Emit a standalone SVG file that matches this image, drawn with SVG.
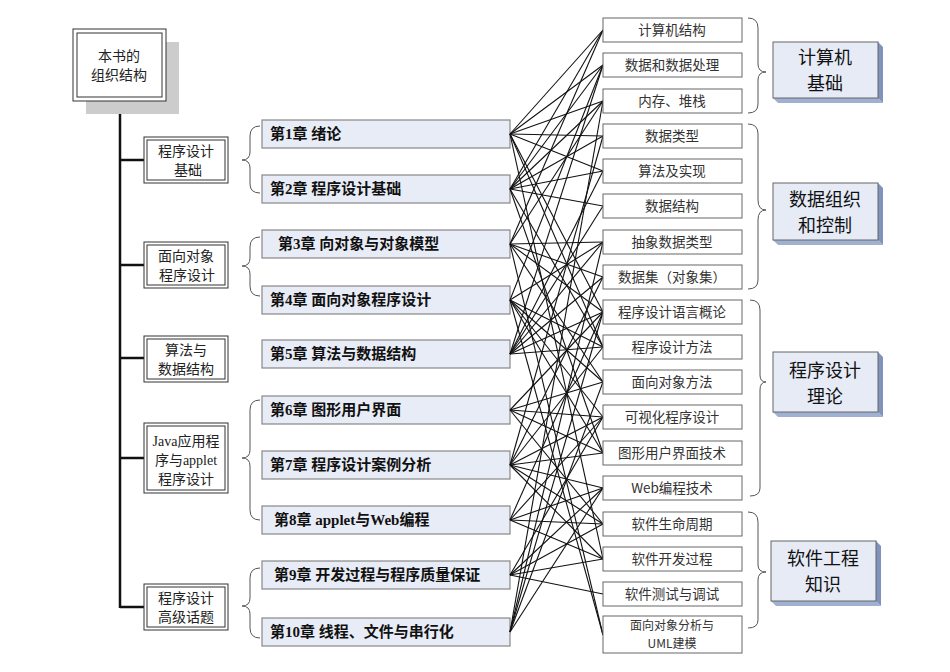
<svg xmlns="http://www.w3.org/2000/svg" width="950" height="672" viewBox="0 0 950 672">
<style>
.t{font-family:"Liberation Serif","Noto Sans CJK SC",serif;font-size:14px;fill:#222}
.ch{font-family:"Liberation Serif","Noto Sans CJK SC",serif;font-size:15px;font-weight:bold;fill:#111}
.tp{font-family:"Noto Sans CJK SC",sans-serif;font-size:13.5px;fill:#333;text-anchor:middle}
.tp2{font-family:"Noto Sans CJK SC",sans-serif;font-size:12px;fill:#333;text-anchor:middle}
.g{font-family:"Noto Sans CJK SC",sans-serif;font-size:18px;fill:#111;text-anchor:middle}
.cb{fill:#e8ecf6;stroke:#888;stroke-width:1.2}
.tb{fill:#fff;stroke:#666;stroke-width:1}
.br{fill:none;stroke:#555;stroke-width:1}
.dbl{fill:#fff;stroke:#333;stroke-width:1}
#conn line{stroke:#111;stroke-width:1.1}
</style>
<rect width="950" height="672" fill="#fff"/>
<g id="tree" stroke="#111" stroke-width="2.5" fill="none">
<line x1="120" y1="95" x2="120" y2="608"/>
<line x1="120" y1="160" x2="144" y2="160"/>
<line x1="120" y1="265" x2="144" y2="265"/>
<line x1="120" y1="358" x2="144" y2="358"/>
<line x1="120" y1="458" x2="144" y2="458"/>
<line x1="120" y1="607" x2="144" y2="607"/>
</g>
<g id="root">
<rect x="86" y="42" width="93" height="72" fill="#ccc"/>
<rect x="73" y="29" width="93" height="72" class="dbl" stroke-width="3"/>
<rect x="77" y="33" width="85" height="64" class="dbl"/>
<text class="t" x="119" y="61" text-anchor="middle">本书的</text>
<text class="t" x="119" y="80" text-anchor="middle">组织结构</text>
</g>
<g id="cat1"><rect x="144" y="137" width="84" height="46" class="dbl" stroke-width="3"/><rect x="147" y="140" width="78" height="40" class="dbl"/><text class="t" x="186" y="156" text-anchor="middle">程序设计</text><text class="t" x="188" y="175" text-anchor="middle">基础</text></g>
<g id="cat2"><rect x="144" y="242" width="84" height="46" class="dbl" stroke-width="3"/><rect x="147" y="245" width="78" height="40" class="dbl"/><text class="t" x="186" y="261" text-anchor="middle">面向对象</text><text class="t" x="187" y="280" text-anchor="middle">程序设计</text></g>
<g id="cat3"><rect x="144" y="336" width="84" height="46" class="dbl" stroke-width="3"/><rect x="147" y="339" width="78" height="40" class="dbl"/><text class="t" x="186" y="355" text-anchor="middle">算法与</text><text class="t" x="186" y="374" text-anchor="middle">数据结构</text></g>
<g id="cat4"><rect x="144" y="423" width="84" height="70" class="dbl" stroke-width="3"/><rect x="147" y="426" width="78" height="64" class="dbl"/><text class="t" x="186" y="446" text-anchor="middle">Java应用程</text><text class="t" x="186" y="465" text-anchor="middle">序与applet</text><text class="t" x="186" y="484" text-anchor="middle">程序设计</text></g>
<g id="cat5"><rect x="144" y="584" width="84" height="46" class="dbl" stroke-width="3"/><rect x="147" y="587" width="78" height="40" class="dbl"/><text class="t" x="186" y="603" text-anchor="middle">程序设计</text><text class="t" x="186" y="622" text-anchor="middle">高级话题</text></g>
<g id="braces-left">
<path class="br" d="M260,126 Q250,126 250,136 L250,152 Q250,160 242,160 Q250,160 250,168 L250,184 Q250,193 260,193"/>
<path class="br" d="M260,237 Q250,237 250,247 L250,258 Q250,266 242,266 Q250,266 250,274 L250,286 Q250,296 260,296"/>
<path class="br" d="M260,400 Q250,400 250,410 L250,450 Q250,458 242,458 Q250,458 250,466 L250,510 Q250,520 260,520"/>
<path class="br" d="M260,568 Q250,568 250,578 L250,598 Q250,606 242,606 Q250,606 250,614 L250,628 Q250,638 260,638"/>
</g>
<g id="chapters">
<g id="ch1"><rect x="262" y="120" width="248" height="28" class="cb"/><text class="ch" x="270" y="139">第1章 绪论</text></g>
<g id="ch2"><rect x="262" y="175" width="248" height="28" class="cb"/><text class="ch" x="270" y="194">第2章 程序设计基础</text></g>
<g id="ch3"><rect x="262" y="230" width="248" height="28" class="cb"/><text class="ch" x="278" y="249">第3章 向对象与对象模型</text></g>
<g id="ch4"><rect x="262" y="286" width="248" height="28" class="cb"/><text class="ch" x="270" y="305">第4章 面向对象程序设计</text></g>
<g id="ch5"><rect x="262" y="340" width="248" height="28" class="cb"/><text class="ch" x="270" y="359">第5章 算法与数据结构</text></g>
<g id="ch6"><rect x="262" y="396" width="248" height="28" class="cb"/><text class="ch" x="270" y="415">第6章 图形用户界面</text></g>
<g id="ch7"><rect x="262" y="451" width="248" height="28" class="cb"/><text class="ch" x="270" y="470">第7章  程序设计案例分析</text></g>
<g id="ch8"><rect x="262" y="506" width="248" height="28" class="cb"/><text class="ch" x="274" y="525">第8章 applet与Web编程</text></g>
<g id="ch9"><rect x="262" y="561" width="248" height="28" class="cb"/><text class="ch" x="274" y="580">第9章  开发过程与程序质量保证</text></g>
<g id="ch10"><rect x="262" y="618" width="248" height="28" class="cb"/><text class="ch" x="270" y="637">第10章  线程、文件与串行化</text></g>
</g>
<g id="conn">
<line x1="510" y1="134" x2="603" y2="30"/><line x1="510" y1="134" x2="603" y2="65"/><line x1="510" y1="134" x2="603" y2="101"/><line x1="510" y1="134" x2="603" y2="136"/><line x1="510" y1="134" x2="603" y2="171"/><line x1="510" y1="134" x2="603" y2="312"/><line x1="510" y1="134" x2="603" y2="347"/><line x1="510" y1="134" x2="603" y2="559"/>
<line x1="510" y1="189" x2="603" y2="30"/><line x1="510" y1="189" x2="603" y2="65"/><line x1="510" y1="189" x2="603" y2="101"/><line x1="510" y1="189" x2="603" y2="136"/><line x1="510" y1="189" x2="603" y2="171"/><line x1="510" y1="189" x2="603" y2="206"/><line x1="510" y1="189" x2="603" y2="347"/><line x1="510" y1="189" x2="603" y2="453"/>
<line x1="510" y1="244" x2="603" y2="30"/><line x1="510" y1="244" x2="603" y2="101"/><line x1="510" y1="244" x2="603" y2="242"/><line x1="510" y1="244" x2="603" y2="277"/><line x1="510" y1="244" x2="603" y2="312"/><line x1="510" y1="244" x2="603" y2="382"/><line x1="510" y1="244" x2="603" y2="635"/>
<line x1="510" y1="300" x2="603" y2="65"/><line x1="510" y1="300" x2="603" y2="242"/><line x1="510" y1="300" x2="603" y2="347"/><line x1="510" y1="300" x2="603" y2="382"/><line x1="510" y1="300" x2="603" y2="417"/><line x1="510" y1="300" x2="603" y2="453"/><line x1="510" y1="300" x2="603" y2="635"/>
<line x1="510" y1="354" x2="603" y2="65"/><line x1="510" y1="354" x2="603" y2="171"/><line x1="510" y1="354" x2="603" y2="206"/><line x1="510" y1="354" x2="603" y2="242"/><line x1="510" y1="354" x2="603" y2="277"/><line x1="510" y1="354" x2="603" y2="312"/><line x1="510" y1="354" x2="603" y2="347"/>
<line x1="510" y1="410" x2="603" y2="312"/><line x1="510" y1="410" x2="603" y2="382"/><line x1="510" y1="410" x2="603" y2="417"/><line x1="510" y1="410" x2="603" y2="453"/><line x1="510" y1="410" x2="603" y2="524"/>
<line x1="510" y1="465" x2="603" y2="136"/><line x1="510" y1="465" x2="603" y2="277"/><line x1="510" y1="465" x2="603" y2="347"/><line x1="510" y1="465" x2="603" y2="417"/><line x1="510" y1="465" x2="603" y2="453"/><line x1="510" y1="465" x2="603" y2="488"/><line x1="510" y1="465" x2="603" y2="524"/><line x1="510" y1="465" x2="603" y2="559"/>
<line x1="510" y1="520" x2="603" y2="312"/><line x1="510" y1="520" x2="603" y2="417"/><line x1="510" y1="520" x2="603" y2="488"/><line x1="510" y1="520" x2="603" y2="524"/><line x1="510" y1="520" x2="603" y2="559"/>
<line x1="510" y1="575" x2="603" y2="417"/><line x1="510" y1="575" x2="603" y2="488"/><line x1="510" y1="575" x2="603" y2="524"/><line x1="510" y1="575" x2="603" y2="559"/><line x1="510" y1="575" x2="603" y2="594"/>
<line x1="510" y1="632" x2="603" y2="101"/><line x1="510" y1="632" x2="603" y2="242"/><line x1="510" y1="632" x2="603" y2="312"/><line x1="510" y1="632" x2="603" y2="382"/><line x1="510" y1="632" x2="603" y2="488"/>
</g>
<g id="topics">
<g><rect x="603" y="18" width="139" height="24" class="tb"/><text class="tp" x="672" y="35">计算机结构</text></g>
<g><rect x="603" y="53" width="139" height="24" class="tb"/><text class="tp" x="672" y="70">数据和数据处理</text></g>
<g><rect x="603" y="89" width="139" height="24" class="tb"/><text class="tp" x="672" y="106">内存、堆栈</text></g>
<g><rect x="603" y="124" width="139" height="24" class="tb"/><text class="tp" x="672" y="141">数据类型</text></g>
<g><rect x="603" y="159" width="139" height="24" class="tb"/><text class="tp" x="672" y="176">算法及实现</text></g>
<g><rect x="603" y="194" width="139" height="24" class="tb"/><text class="tp" x="672" y="211">数据结构</text></g>
<g><rect x="603" y="230" width="139" height="24" class="tb"/><text class="tp" x="672" y="247">抽象数据类型</text></g>
<g><rect x="603" y="265" width="139" height="24" class="tb"/><text class="tp" x="672" y="282">数据集（对象集）</text></g>
<g><rect x="603" y="300" width="139" height="24" class="tb"/><text class="tp" x="672" y="317">程序设计语言概论</text></g>
<g><rect x="603" y="335" width="139" height="24" class="tb"/><text class="tp" x="672" y="352">程序设计方法</text></g>
<g><rect x="603" y="370" width="139" height="24" class="tb"/><text class="tp" x="672" y="387">面向对象方法</text></g>
<g><rect x="603" y="405" width="139" height="24" class="tb"/><text class="tp" x="672" y="422">可视化程序设计</text></g>
<g><rect x="603" y="441" width="139" height="24" class="tb"/><text class="tp" x="672" y="458">图形用户界面技术</text></g>
<g><rect x="603" y="476" width="139" height="24" class="tb"/><text class="tp" x="672" y="493">Web编程技术</text></g>
<g><rect x="603" y="512" width="139" height="24" class="tb"/><text class="tp" x="672" y="529">软件生命周期</text></g>
<g><rect x="603" y="547" width="139" height="24" class="tb"/><text class="tp" x="672" y="564">软件开发过程</text></g>
<g><rect x="603" y="582" width="139" height="24" class="tb"/><text class="tp" x="672" y="599">软件测试与调试</text></g>
<g><rect x="603" y="616" width="139" height="37" class="tb"/><text class="tp2" x="672" y="630">面向对象分析与</text><text class="tp2" x="672" y="648">UML建模</text></g>
</g>
<g id="braces-right">
<path class="br" d="M748,18 Q758,18 758,28 L758,64 Q758,72 766,72 Q758,72 758,80 L758,104 Q758,113 748,113"/>
<path class="br" d="M748,124 Q758,124 758,134 L758,200 Q758,210 766,210 Q758,210 758,220 L758,280 Q758,289 748,289"/>
<path class="br" d="M750,300 Q760,300 760,310 L760,375 Q760,382 766,382 Q760,382 760,390 L760,488 Q760,496 750,496"/>
<path class="br" d="M748,512 Q758,512 758,522 L758,565 Q758,572 766,572 Q758,572 758,580 L758,620 Q758,628 748,628"/>
</g>
<g id="groups">
<g><polygon points="773,98 878,98 883,103 778,103" fill="#9fb0d0"/><polygon points="878,42 883,47 883,103 878,98" fill="#7f93bb"/><rect x="773" y="42" width="105" height="56" fill="#e6ebf6" stroke="#666"/><text class="g" x="825" y="64">计算机</text><text class="g" x="825" y="90">基础</text></g>
<g><polygon points="773,240 878,240 883,245 778,245" fill="#9fb0d0"/><polygon points="878,183 883,188 883,245 878,240" fill="#7f93bb"/><rect x="773" y="183" width="105" height="57" fill="#e6ebf6" stroke="#666"/><text class="g" x="825" y="206">数据组织</text><text class="g" x="825" y="232">和控制</text></g>
<g><polygon points="773,412 878,412 883,417 778,417" fill="#9fb0d0"/><polygon points="878,352 883,357 883,417 878,412" fill="#7f93bb"/><rect x="773" y="352" width="105" height="60" fill="#e6ebf6" stroke="#666"/><text class="g" x="825" y="377">程序设计</text><text class="g" x="825" y="403">理论</text></g>
<g><polygon points="771,601 876,601 881,606 776,606" fill="#9fb0d0"/><polygon points="876,541 881,546 881,606 876,601" fill="#7f93bb"/><rect x="771" y="541" width="105" height="60" fill="#e6ebf6" stroke="#666"/><text class="g" x="823" y="565">软件工程</text><text class="g" x="823" y="591">知识</text></g>
</g>
</svg>
